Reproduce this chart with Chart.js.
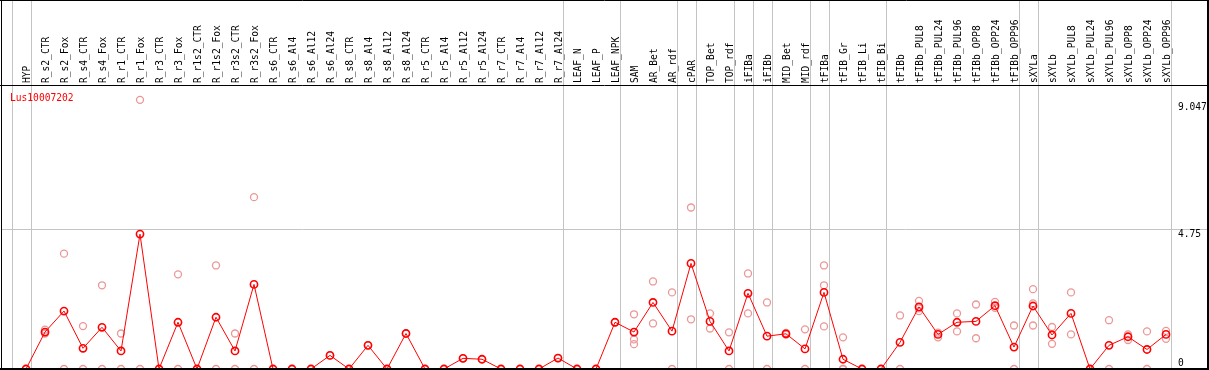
<!DOCTYPE html>
<html>
<head>
<meta charset="utf-8">
<script src="https://cdn.jsdelivr.net/npm/chart.js@4/dist/chart.umd.min.js"></script>
<style>
  html, body { margin: 0; padding: 0; background: #fff; }
  #wrap { width: 1209px; height: 370px; }
</style>
</head>
<body>
<div id="wrap"><canvas id="expr" width="1209" height="370"></canvas></div>
<script>
// sample names, one per column
const samples = [
    'HYP', 'R_s2_CTR', 'R_s2_Fox', 'R_s4_CTR', 'R_s4_Fox', 'R_r1_CTR', 'R_r1_Fox',
    'R_r3_CTR', 'R_r3_Fox', 'R_r1s2_CTR', 'R_r1s2_Fox', 'R_r3s2_CTR', 'R_r3s2_Fox',
    'R_s6_CTR', 'R_s6_Al4', 'R_s6_Al12', 'R_s6_Al24', 'R_s8_CTR', 'R_s8_Al4', 'R_s8_Al12',
    'R_s8_Al24', 'R_r5_CTR', 'R_r5_Al4', 'R_r5_Al12', 'R_r5_Al24', 'R_r7_CTR', 'R_r7_Al4',
    'R_r7_Al12', 'R_r7_Al24', 'LEAF_N', 'LEAF_P', 'LEAF_NPK', 'SAM', 'AR_Bet', 'AR_rdf',
    'cPAR', 'TOP_Bet', 'TOP_rdf', 'iFIBa', 'iFIBb', 'MID_Bet', 'MID_rdf', 'tFIBa',
    'tFIB_Gr', 'tFIB_Li', 'tFIB_Bi', 'tFIBb', 'tFIBb_PUL8', 'tFIBb_PUL24', 'tFIBb_PUL96',
    'tFIBb_OPP8', 'tFIBb_OPP24', 'tFIBb_OPP96', 'sXYLa', 'sXYLb', 'sXYLb_PUL8',
    'sXYLb_PUL24', 'sXYLb_PUL96', 'sXYLb_OPP8', 'sXYLb_OPP24', 'sXYLb_OPP96'
];

// mean expression per sample (red line)
const means = [
    0, 1.25, 1.96, 0.70, 1.41, 0.61, 4.56, 0, 1.58, 0, 1.75, 0.61, 2.86,
    0, 0, 0, 0.46, 0, 0.80, 0, 1.20, 0, 0, 0.36, 0.33, 0, 0, 0, 0.37,
    0, 0, 1.58, 1.25, 2.25, 1.28, 3.57, 1.61, 0.61, 2.56, 1.11, 1.19, 0.68,
    2.59, 0.33, 0, 0, 0.90, 2.10, 1.17, 1.58, 1.61, 2.14, 0.74,
    2.13, 1.15, 1.88, 0, 0.80, 1.09, 0.66, 1.17
];

// replicate values per sample (pink circles)
const replicates = [
    [0], [1.33, 1.2], [3.9, 0], [1.45, 0], [2.83, 0], [1.2, 0], [9.1, 0],
    [0], [3.2, 0], [0], [3.5, 0], [1.2, 0], [5.81, 0],
    [0], [0], [0], [0.46], [0], [0.8], [0], [1.2], [0], [0], [0.36], [0.33],
    [0], [0], [0], [0.37], [0], [0], [1.58],
    [1.85, 1.0, 0.84], [2.96, 1.54], [2.59, 0], [5.46, 1.68], [1.88, 1.37], [1.24, 0],
    [3.23, 1.88], [2.25, 0], [1.22, 1.16], [1.34, 0], [3.5, 2.83, 1.44], [1.07, 0, 0],
    [0], [0], [1.81, 0], [2.3, 2.05, 1.96], [1.23, 1.07], [1.88, 1.27], [2.18, 1.04],
    [2.27, 2.07], [1.47, 0], [2.70, 2.22, 1.47], [1.42, 0.85], [2.59, 1.17], [0],
    [1.65, 0], [1.17, 0.98], [1.27, 0], [1.29, 1.02]
];

// index of the last sample in each group (grey separators)
const groupEnds = [-1, 0, 28, 31, 34, 35, 37, 38, 39, 41, 42, 45, 52, 53, 60];

// value labels on the right
const yLabels = [0, 4.75, 9.047];
const gridValues = [4.75];
const geneName = 'Lus10007202';

const FONT = '9.6px "DejaVu Sans Mono", monospace';

const meanPoints = means.map((v, i) => ({ x: i, y: v }));
const repPoints = [];
replicates.forEach((list, i) => list.forEach(v => repPoints.push({ x: i, y: v })));

const framePlugin = {
    id: 'frame',
    beforeDatasetsDraw(chart) {
        const ctx = chart.ctx;
        const xs = chart.scales.x;
        const ys = chart.scales.y;
        const area = chart.chartArea;
        ctx.save();
        ctx.strokeStyle = '#c4c4c4';
        ctx.lineWidth = 1;
        groupEnds.forEach(i => {
            const px = Math.round(xs.getPixelForValue(i + 0.24)) + 0.5;
            ctx.beginPath();
            ctx.moveTo(px, 0);
            ctx.lineTo(px, area.bottom);
            ctx.stroke();
        });
        gridValues.forEach(v => {
            const py = Math.round(ys.getPixelForValue(v)) + 0.5;
            ctx.beginPath();
            ctx.moveTo(area.left, py);
            ctx.lineTo(area.right, py);
            ctx.stroke();
        });

        // sample names, rotated
        ctx.fillStyle = '#000';
        ctx.font = FONT;
        ctx.textAlign = 'left';
        ctx.textBaseline = 'alphabetic';
        samples.forEach((name, i) => {
            const px = xs.getPixelForValue(i);
            ctx.save();
            ctx.translate(px + 4, 83);
            ctx.rotate(-Math.PI / 2);
            ctx.fillText(name, 0, 0);
            ctx.restore();
        });

        // right-hand value labels
        yLabels.forEach(v => {
            const py = ys.getPixelForValue(v);
            const base = v === 0 ? py - 3 : py + 8.5;
            ctx.fillText(String(v), 1178, base);
        });

        ctx.fillStyle = '#ff0000';
        ctx.fillText(geneName, 10, 101);
        ctx.restore();
    },
    afterDraw(chart) {
        const ctx = chart.ctx;
        const w = chart.width;
        ctx.save();
        ctx.strokeStyle = '#000';
        ctx.lineWidth = 1;
        ctx.beginPath();
        ctx.moveTo(0, 0.5); ctx.lineTo(w, 0.5);
        ctx.moveTo(1.5, 0); ctx.lineTo(1.5, 370);
        ctx.moveTo(0, 85.5); ctx.lineTo(w, 85.5);
        ctx.stroke();
        ctx.lineWidth = 2;
        ctx.beginPath();
        ctx.moveTo(0, 369); ctx.lineTo(w, 369);
        ctx.moveTo(1208, 0); ctx.lineTo(1208, 370);
        ctx.stroke();
        ctx.restore();
    }
};

new Chart(document.getElementById('expr'), {
    type: 'scatter',
    data: {
        datasets: [
            {
                label: 'mean',
                data: meanPoints,
                showLine: true,
                borderColor: '#ff0000',
                borderWidth: 1,
                pointRadius: 3.6,
                pointBorderWidth: 1.6,
                pointBorderColor: '#ff0000',
                pointBackgroundColor: 'rgba(0,0,0,0)',
                clip: false
            },
            {
                label: 'replicates',
                data: repPoints,
                showLine: false,
                pointRadius: 3.5,
                pointBorderWidth: 1.3,
                pointBorderColor: 'rgb(236,150,150)',
                pointBackgroundColor: 'rgba(0,0,0,0)',
                clip: false
            }
        ]
    },
    options: {
        responsive: false,
        animation: false,
        events: [],
        layout: { autoPadding: false, padding: { left: 1, right: 2, top: 88, bottom: 1 } },
        scales: {
            x: { type: 'linear', display: false, min: -1.316, max: 62.158 },
            y: { type: 'linear', display: false, min: 0, max: 9.5 }
        },
        plugins: {
            legend: { display: false },
            tooltip: { enabled: false }
        }
    },
    plugins: [framePlugin]
});
</script>
</body>
</html>
